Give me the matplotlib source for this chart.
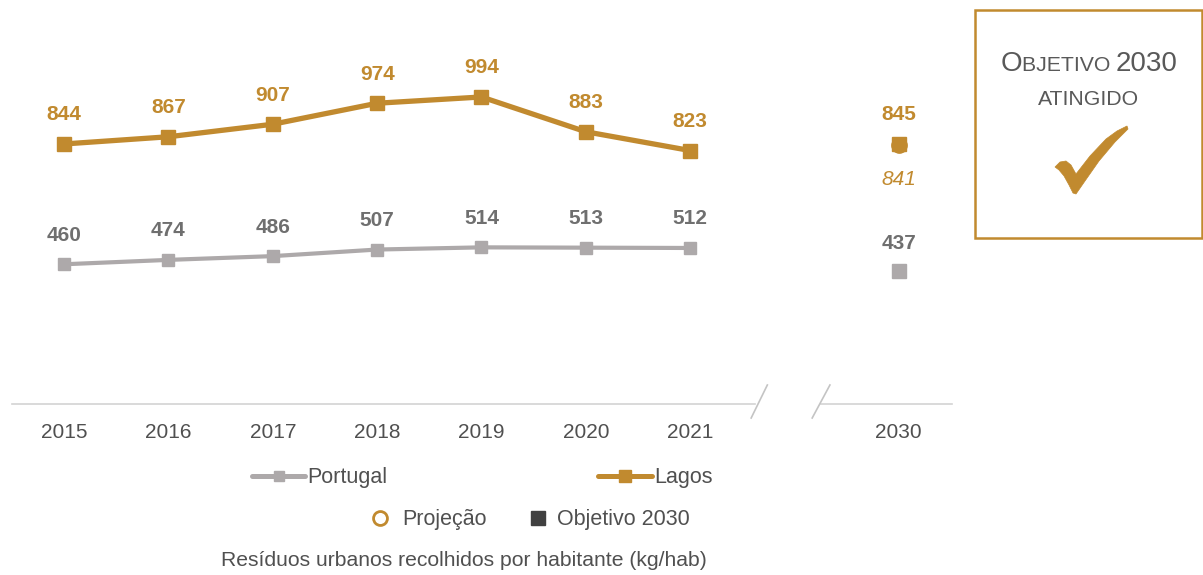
import matplotlib
matplotlib.use("Agg")
import matplotlib.pyplot as plt
from matplotlib.lines import Line2D
from matplotlib.patches import Rectangle, Polygon

plt.rcParams['font.family'] = ['Liberation Sans', 'DejaVu Sans']

# ---- data ----
years = ['2015', '2016', '2017', '2018', '2019', '2020', '2021']
portugal = [460, 474, 486, 507, 514, 513, 512]
lagos = [844, 867, 907, 974, 994, 883, 823]
target_label = '2030'
portugal_2030_target = 437
lagos_2030_target = 845
lagos_2030_projection = 841
legend_labels = ['Portugal', 'Lagos', 'Projeção', 'Objetivo 2030']
caption = 'Resíduos urbanos recolhidos por habitante (kg/hab)'

GOLD = '#C18A2F'
GRAY = '#ADA9AA'
DARK = '#404040'
TXT = '#505050'
LBLGRAY = '#6F6F6F'

W, H = 1203, 575
fig = plt.figure(figsize=(W / 100, H / 100), dpi=100)


def fx(px):
    return px / W


def fy(py):
    return 1 - py / H


K = 0.3133  # px per data unit
ax = fig.add_axes([fx(12), fy(404), fx(952) - fx(12), 404 / H])
ax.set_xlim(-0.5, 8.51)
ax.set_ylim(14, 14 + 404 / K)
for s in ax.spines.values():
    s.set_visible(False)
ax.set_yticks([])
ax.patch.set_alpha(0)

x = list(range(len(years)))
x2030 = 8

ax.plot(x, portugal, color=GRAY, lw=3.0, marker='s', ms=9, zorder=3)
ax.plot(x, lagos, color=GOLD, lw=3.8, marker='s', ms=10.5, zorder=3)
ax.plot([x2030], [portugal_2030_target], ls='none', marker='s', ms=10, color=GRAY, zorder=3)
ax.plot([x2030], [lagos_2030_target], ls='none', marker='s', ms=10, color=GOLD, zorder=3)
ax.plot([x2030], [lagos_2030_projection], ls='none', marker='o', ms=11, color=GOLD, zorder=4)

FS = 15
for xi, v in zip(x, lagos):
    ax.text(xi, v + 29 / K, str(v), ha='center', va='center', color=GOLD,
            fontsize=FS, fontweight='bold')
for xi, v in zip(x, portugal):
    ax.text(xi, v + 29 / K, str(v), ha='center', va='center', color=LBLGRAY,
            fontsize=FS, fontweight='bold')
ax.text(x2030, lagos_2030_target + 29 / K, str(lagos_2030_target), ha='center',
        va='center', color=GOLD, fontsize=FS, fontweight='bold')
ax.text(x2030, lagos_2030_projection - 35 / K, str(lagos_2030_projection), ha='center',
        va='center', color=GOLD, fontsize=FS, style='italic')
ax.text(x2030, portugal_2030_target + 28 / K, str(portugal_2030_target), ha='center',
        va='center', color=LBLGRAY, fontsize=FS, fontweight='bold')

# x axis with break
ax.set_xticks(x + [x2030])
ax.set_xticklabels(years + [target_label], fontsize=15, color=TXT)
ax.tick_params(axis='x', length=0, pad=14)
ybase = 14
ax.plot([-0.5, 6.62], [ybase, ybase], color='#D3D3D3', lw=1.2, clip_on=False, zorder=1)
ax.plot([7.25, 8.51], [ybase, ybase], color='#D3D3D3', lw=1.2, clip_on=False, zorder=1)
dy1 = 19 / K
dy2 = 14 / K
ax.plot([6.585, 6.74], [ybase - dy2, ybase + dy1], color='#C4C4C4', lw=1.2, clip_on=False)
ax.plot([7.17, 7.34], [ybase - dy2, ybase + dy1], color='#C4C4C4', lw=1.2, clip_on=False)

# ---- legend (manual, figure coords) ----
LFS = 15.5
fig.add_artist(Line2D([fx(252), fx(305)], [fy(476), fy(476)], color=GRAY, lw=3.6,
                      solid_capstyle='round'))
fig.add_artist(Line2D([fx(278.5)], [fy(476)], marker='s', ms=7.5, color=GRAY))
fig.text(fx(307), fy(478), legend_labels[0], ha='left', va='center', fontsize=LFS, color=TXT)
fig.add_artist(Line2D([fx(598), fx(652)], [fy(476), fy(476)], color=GOLD, lw=3.6,
                      solid_capstyle='round'))
fig.add_artist(Line2D([fx(625)], [fy(476)], marker='s', ms=8, color=GOLD))
fig.text(fx(654), fy(478), legend_labels[1], ha='left', va='center', fontsize=LFS, color=TXT)

fig.add_artist(Line2D([fx(380)], [fy(518)], marker='o', ms=10, mfc='none', mec=GOLD, mew=2))
fig.text(fx(402), fy(520), legend_labels[2], ha='left', va='center', fontsize=LFS, color=TXT)
fig.add_artist(Line2D([fx(538)], [fy(518)], marker='s', ms=10, color=DARK))
fig.text(fx(557), fy(520), legend_labels[3], ha='left', va='center', fontsize=LFS, color=TXT)

fig.text(fx(464), fy(561), caption, ha='center', va='center', fontsize=15.2, color=TXT)

# ---- box ----
fig.add_artist(Rectangle((fx(975), fy(238)), fx(1202) - fx(975), (238 - 10) / H,
                         transform=fig.transFigure, fill=False, ec=GOLD, lw=1.8))

renderer = fig.canvas.get_renderer()


def smallcaps_line(parts, cx, cy):
    texts = []
    for t, s in parts:
        tt = fig.text(0, fy(cy), t, fontsize=s, color='#595959', ha='left', va='baseline')
        texts.append(tt)
    widths = [t.get_window_extent(renderer).width for t in texts]
    total = sum(widths)
    xs = cx - total / 2
    for t, w in zip(texts, widths):
        t.set_x(fx(xs))
        xs += w


smallcaps_line([('O', 20), ('BJETIVO ', 15.3), ('2030', 20)], 1089, 71)
smallcaps_line([('ATINGIDO', 15.3)], 1089, 105)

check_px = [(1055, 167), (1060, 162), (1066, 161), (1071, 165), (1076, 174),
            (1090, 156), (1106, 139), (1117, 131), (1127, 126), (1128, 129),
            (1115, 142), (1099, 161), (1085, 181), (1076, 194), (1073, 193),
            (1069, 185), (1064, 176), (1059, 170)]
check = Polygon([(fx(a), fy(b)) for a, b in check_px], closed=True,
                transform=fig.transFigure, fc=GOLD, ec=GOLD, lw=0.5)
fig.add_artist(check)

fig.savefig('out.png', dpi=100)
